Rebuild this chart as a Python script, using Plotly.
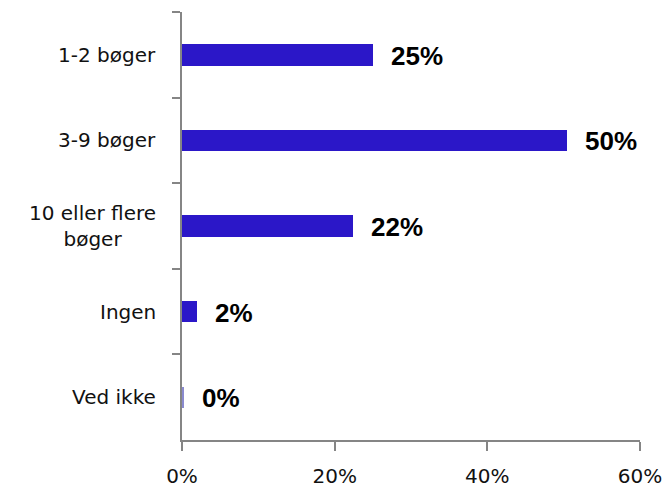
import plotly.graph_objects as go

categories = ["1-2 bøger", "3-9 bøger", "10 eller flere bøger", "Ingen", "Ved ikke"]
labels = ["1-2 bøger", "3-9 bøger", "10 eller flere<br>bøger", "Ingen", "Ved ikke"]
values = [25.0, 50.4, 22.4, 2.0, 0.3]
value_text = ["25%", "50%", "22%", "2%", "0%"]
bar_colors = ["#2B17C8", "#2B17C8", "#2B17C8", "#2B17C8", "#8A8ACF"]
x_ticks = [0, 20, 40, 60]
x_tick_text = ["0%", "20%", "40%", "60%"]

fig = go.Figure()
fig.add_trace(go.Bar(
    x=values, y=categories, orientation="h",
    marker=dict(color=bar_colors, line=dict(width=0)),
    width=0.25,
    hoverinfo="skip",
))

for v, c, t in zip(values, categories, value_text):
    fig.add_annotation(x=v, y=c, text=t, showarrow=False, xanchor="left",
                       xshift=16, yshift=-1,
                       font=dict(family="Liberation Sans", size=26, color="#000000", weight="bold"))

for c, l in zip(categories, labels):
    fig.add_annotation(x=0, y=c, xref="paper", text=l, showarrow=False,
                       xanchor="right", xshift=-24, align="center",
                       font=dict(family="DejaVu Sans", size=20, color="#111111"))

fig.update_layout(
    width=672, height=489,
    margin=dict(l=174, r=40, t=4, b=57),
    paper_bgcolor="white", plot_bgcolor="white",
    showlegend=False,
    bargap=0,
    xaxis=dict(range=[0, 60], tickvals=x_ticks, ticktext=x_tick_text,
               showgrid=False, zeroline=False, showline=True,
               linecolor="#858585", linewidth=2,
               ticks="outside", ticklen=9, tickwidth=2, tickcolor="#858585",
               ticklabelstandoff=8,
               tickfont=dict(family="DejaVu Sans", size=20, color="#111111"),
               fixedrange=True),
    yaxis=dict(categoryorder="array", categoryarray=categories,
               autorange="reversed", showticklabels=False,
               tickson="boundaries", ticks="outside", ticklen=8, tickwidth=2,
               tickcolor="#858585",
               showgrid=False, zeroline=False, showline=True,
               linecolor="#858585", linewidth=2, fixedrange=True),
)

fig.write_html("out.html")
